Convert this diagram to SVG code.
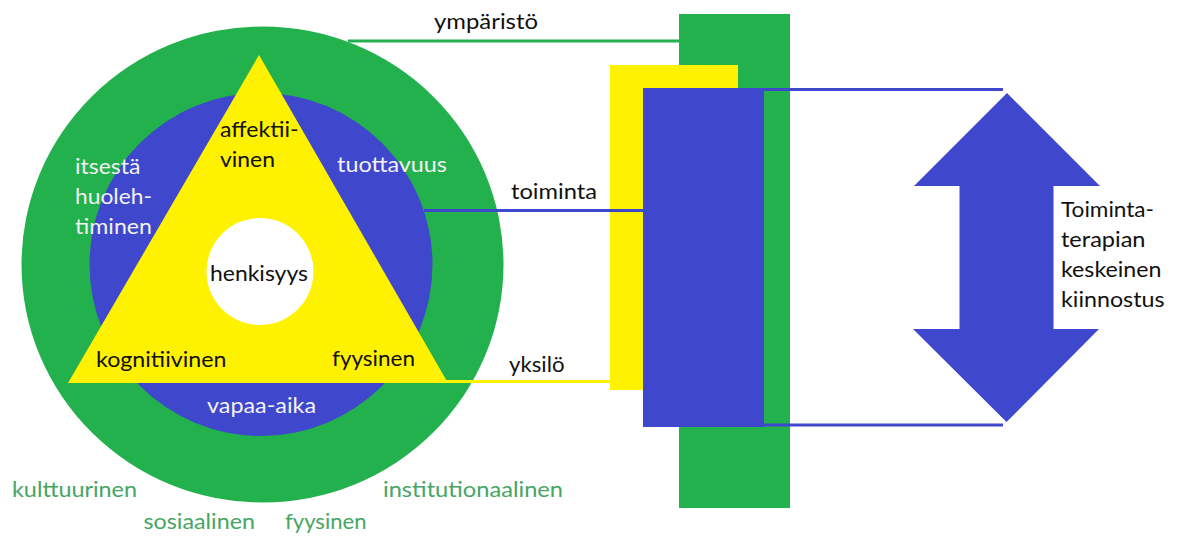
<svg xmlns="http://www.w3.org/2000/svg" width="1181" height="536" viewBox="0 0 1181 536">
  <style>
    text { font-family: Lato, "Liberation Sans", sans-serif; font-size: 22px; }
    .dark { fill: #111111; }
    .light { fill: #f2f2f2; }
    .gtext { fill: #46a563; }
    .green { fill: #22b14c; }
    .blue { fill: #3f48cc; }
    .yellow { fill: #fff200; }
  </style>
  <rect width="1181" height="536" fill="#ffffff"/>

  <g id="environment-circle">
    <ellipse class="green" cx="262.5" cy="264.5" rx="241" ry="238"/>
    <text class="gtext" x="12" y="496.5" textLength="125" lengthAdjust="spacingAndGlyphs">kulttuurinen</text>
    <text class="gtext" x="383" y="496.5" textLength="180" lengthAdjust="spacingAndGlyphs">institutionaalinen</text>
    <text class="gtext" x="143.5" y="529" textLength="111.5" lengthAdjust="spacingAndGlyphs">sosiaalinen</text>
    <text class="gtext" x="285" y="529" textLength="81.5" lengthAdjust="spacingAndGlyphs">fyysinen</text>
  </g>

  <g id="occupation-circle">
    <circle class="blue" cx="261" cy="264.5" r="171.5"/>
    <text class="light" x="75" y="174" textLength="65.5" lengthAdjust="spacingAndGlyphs">itsestä</text>
    <text class="light" x="75" y="203.5" textLength="77" lengthAdjust="spacingAndGlyphs">huoleh-</text>
    <text class="light" x="75" y="233.5" textLength="77" lengthAdjust="spacingAndGlyphs">timinen</text>
    <text class="light" x="337" y="172" textLength="110" lengthAdjust="spacingAndGlyphs">tuottavuus</text>
    <text class="light" x="207" y="413" textLength="109" lengthAdjust="spacingAndGlyphs">vapaa-aika</text>
  </g>

  <g id="person-triangle">
    <polygon class="yellow" points="259,55 448,383 68,383"/>
    <text class="dark" x="220" y="137" textLength="78.5" lengthAdjust="spacingAndGlyphs">affektii-</text>
    <text class="dark" x="220" y="167" textLength="55" lengthAdjust="spacingAndGlyphs">vinen</text>
    <text class="dark" x="96" y="367" textLength="130.5" lengthAdjust="spacingAndGlyphs">kognitiivinen</text>
    <text class="dark" x="332" y="366" textLength="83" lengthAdjust="spacingAndGlyphs">fyysinen</text>
  </g>

  <g id="spirituality">
    <circle fill="#ffffff" cx="260" cy="271.5" r="53.5"/>
    <text class="dark" x="210" y="281" textLength="98" lengthAdjust="spacingAndGlyphs">henkisyys</text>
  </g>

  <g id="labels">
    <text class="dark" x="434" y="29" textLength="104" lengthAdjust="spacingAndGlyphs">ympäristö</text>
    <text class="dark" x="511" y="199" textLength="86" lengthAdjust="spacingAndGlyphs">toiminta</text>
    <text class="dark" x="509" y="372" textLength="55.5" lengthAdjust="spacingAndGlyphs">yksilö</text>
  </g>

  <g id="environment-bar">
    <rect class="green" x="679" y="14" width="111" height="494"/>
  </g>
  <g id="person-bar">
    <rect class="yellow" x="610" y="65" width="128" height="325"/>
  </g>
  <g id="occupation-bar">
    <rect class="blue" x="643" y="88" width="121" height="339"/>
  </g>

  <g id="connectors" fill="none" stroke-width="3.2">
    <line x1="348" y1="41" x2="680" y2="41" stroke="#22b14c"/>
    <line x1="424" y1="210.5" x2="644" y2="210.5" stroke="#3f48cc"/>
    <line x1="446" y1="381.5" x2="611" y2="381.5" stroke="#fff200"/>
    <line x1="764" y1="89.5" x2="1003" y2="89.5" stroke="#3f48cc"/>
    <line x1="764" y1="425" x2="1003" y2="425" stroke="#3f48cc"/>
  </g>

  <g id="focus-arrow">
    <polygon class="blue" points="1007,93 1100,186 1053.5,186 1053.5,329 1099,329 1006.5,422 913,329 959.5,329 959.5,186 914,186"/>
    <text class="dark" x="1061" y="217" textLength="93" lengthAdjust="spacingAndGlyphs">Toiminta-</text>
    <text class="dark" x="1061" y="247" textLength="84.5" lengthAdjust="spacingAndGlyphs">terapian</text>
    <text class="dark" x="1061" y="277" textLength="100.5" lengthAdjust="spacingAndGlyphs">keskeinen</text>
    <text class="dark" x="1061" y="307" textLength="103.5" lengthAdjust="spacingAndGlyphs">kiinnostus</text>
  </g>
</svg>
